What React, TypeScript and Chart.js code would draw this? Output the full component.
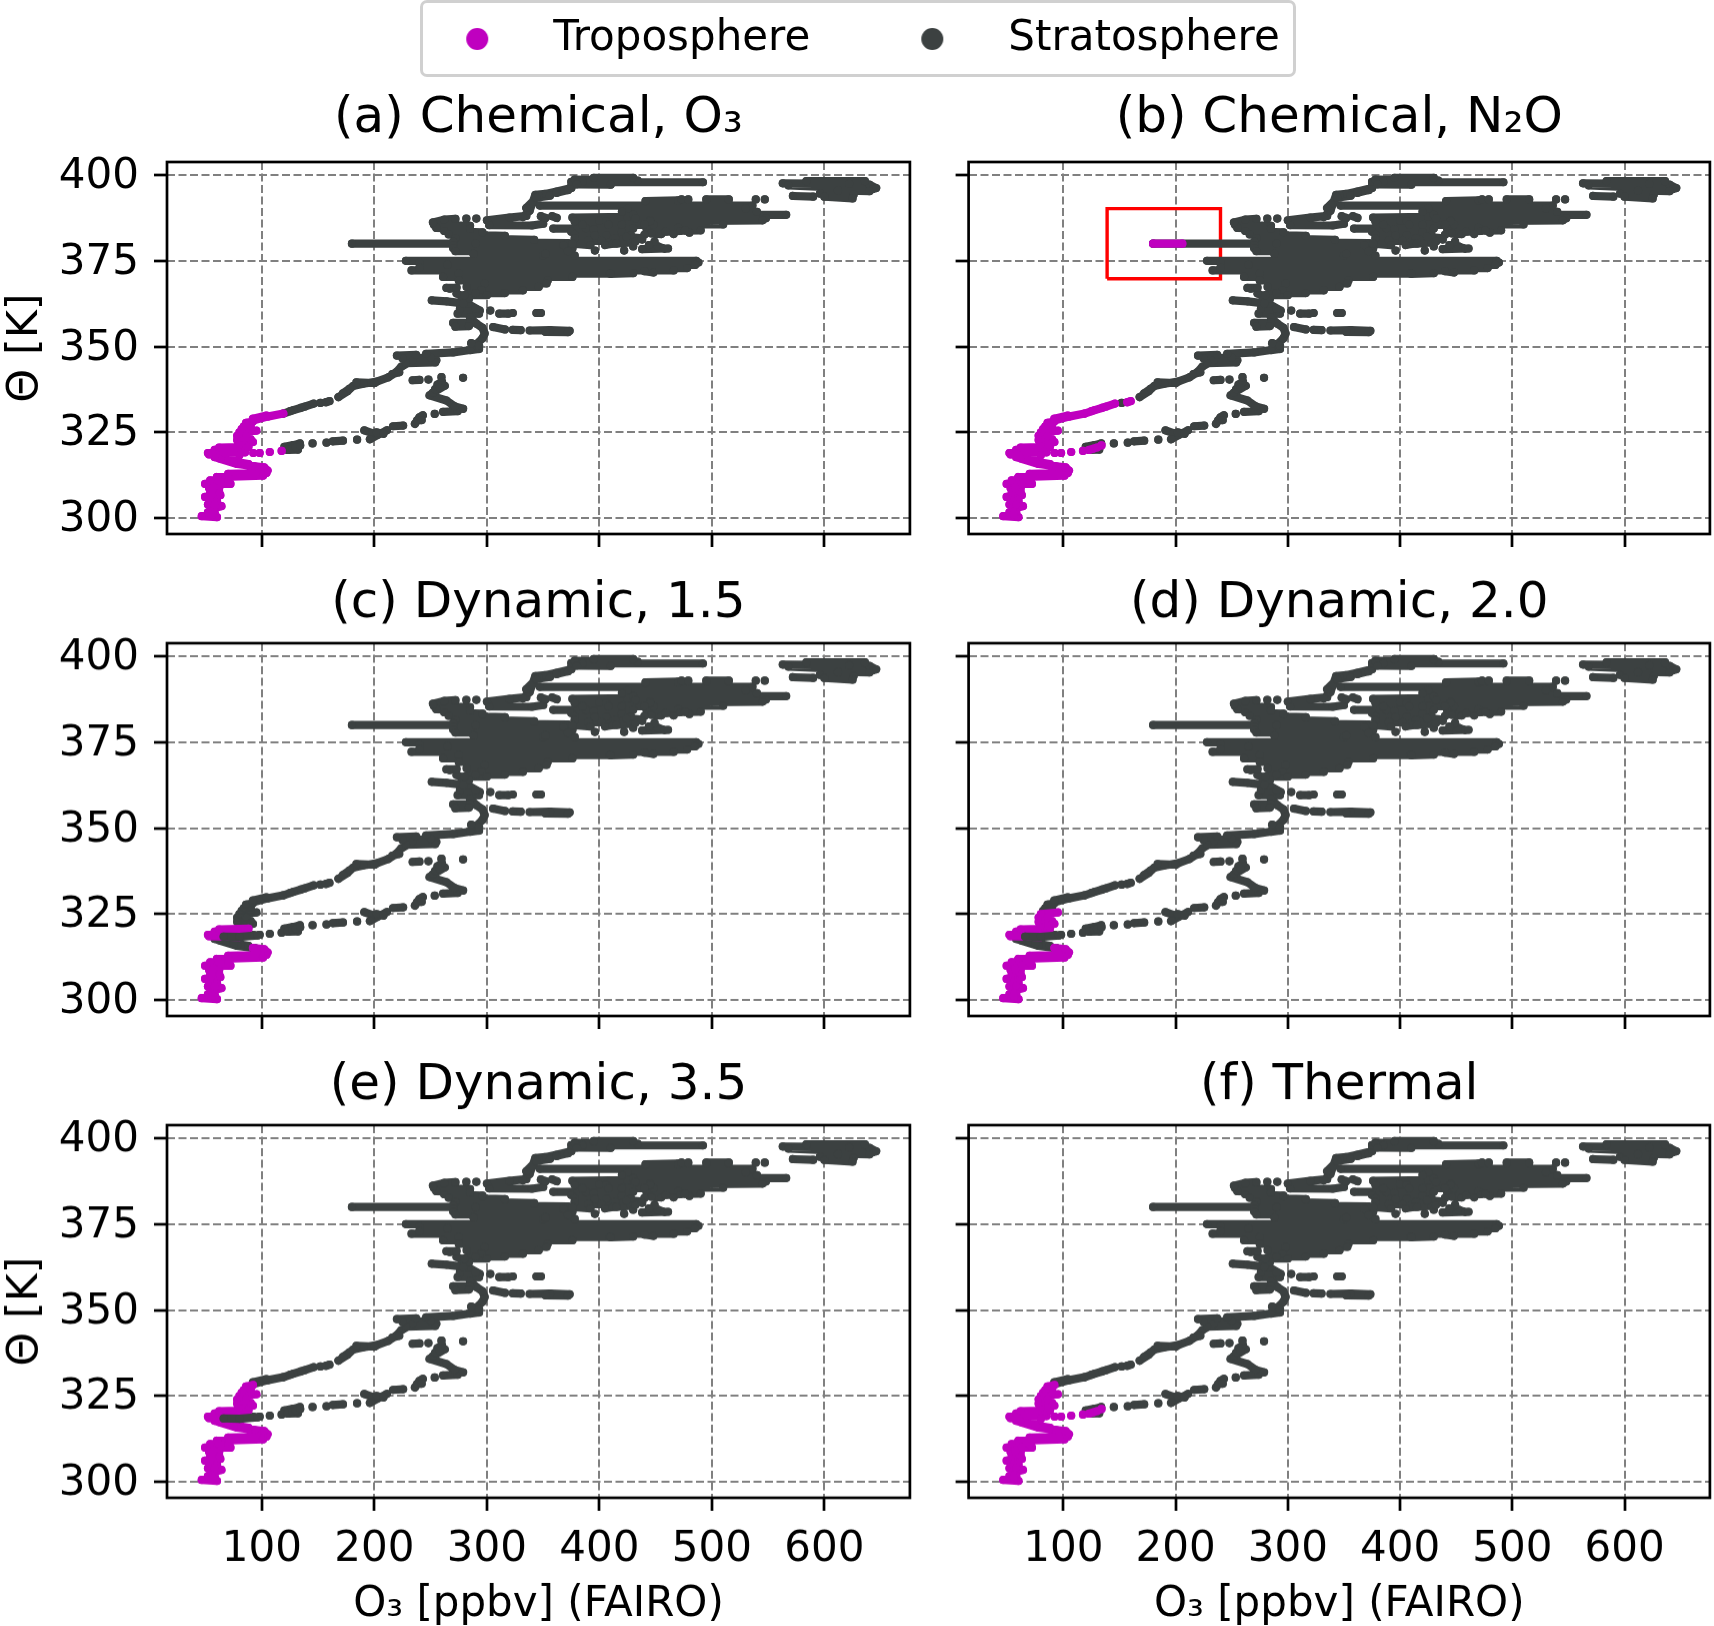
import React, { useEffect, useRef } from "react";
import { Chart, registerables } from "chart.js";

Chart.register(...registerables);

type P = [number, number];

const FONT = "'DejaVu Sans'";
const MAGENTA = "#bf00bf";
const DARK = "#3c4141";
const GRID = "#808080";

const xTickStep = 100;
const yTickStep = 25;
const xRange: P = [15.6, 676];
const yRange: P = [295.4, 403.8];

const titles = ["(a) Chemical, O₃", "(b) Chemical, N₂O", "(c) Dynamic, 1.5", "(d) Dynamic, 2.0", "(e) Dynamic, 3.5", "(f) Thermal"];
const xAxisLabel = "O₃ [ppbv] (FAIRO)";
const yAxisLabel = "Θ [K]";
const legendLabels = ["Troposphere", "Stratosphere"];
const redBox: P[] = [[139, 369.8], [240, 369.8], [240, 390.2], [139, 390.2], [139, 369.8]];

// ---- lower profile, split into the pieces that each criterion labels differently
const bottomProfile: P[][] = [
  [[46.5, 300.6], [60, 300.3]], [[52, 301.7], [58, 301.7]], [[55, 302.6], [64, 303.5]], [[52, 304], [61, 304]], [[54, 305.2], [60, 305.2]],
  [[49.5, 306.2], [63, 306.7]], [[54, 307.6], [62, 307.6]], [[53, 308.8], [62, 308.8]], [[49.5, 310], [72, 310]], [[54, 311], [70, 310.8]],
  [[56, 301], [58, 304], [57, 309], [60, 312]], [[60, 312], [101, 312.4]], [[70, 312.9], [104, 313.2]],
];
const kneeTip: P[][] = [[[105, 313.9], [102, 314.8], [92, 315.2]]];
const kneeSegment: P[][] = [[[94, 315.1], [78, 315.8], [62, 317.4]], [[88, 315.8], [70, 316.8]], [[75, 316.2], [58, 317.8]]];
const lowBlob: P[][] = [[[52, 319], [85, 319.2]], [[53, 318.6], [80, 318.4]], [[58, 319.9], [85, 320.2]], [[62, 320.6], [88, 320.8]]];
const midProfile: P[][] = [[[80, 321.5], [92, 322.2]], [[78, 322.8], [90, 323]], [[78, 324], [86, 324]], [[80, 325], [95, 325.5]]];
const shoulder: P[][] = [[[82, 326], [90, 326]], [[84, 326.8], [90, 327]], [[86, 327.8], [92, 328.2]]];
const upperTropo: P[][] = [[[92, 328.5], [105, 329.6], [119, 330.5]], [[92, 329], [104, 329.9]]];
const upperMid: P[][] = [[[119, 330.5], [128, 331.5], [138, 332.5], [146, 333.4]], [[125, 331.2], [135, 332.2]]];
const upperDots: P[][] = [[[152, 333.6]]];
const upperSpot: P[][] = [[[157, 333.8], [160, 334.1]]];
const lowDotsNear: P[][] = [[[92.3, 319]], [[98, 319]], [[107, 319.3]], [[117.5, 319.6]]];
const lowDotsFar: P[][] = [[[123, 319.9], [127, 320.3]], [[130, 320.6]], [[134, 321.2]]];
const darkSliver: P[][] = [[[66, 318.5], [80, 318.4], [96, 318.8]]];
const chemicalStart: P[][] = [[[180, 380], [206, 380]]];

// ---- stratospheric branch
const lowStrand: P[][] = [
  [[120, 320.8], [127.8, 321.3], [133.7, 321.8]], [[123, 319.9], [132, 320]], [[145, 321.8]], [[157.4, 322]], [[163, 322.4], [172, 322.6]], [[184.6, 322.9]],
  [[191, 325.6], [198, 324.8]], [[196, 323], [203, 324.3], [211, 325.6]], [[202, 325], [208, 324.6]], [[216.6, 326.8], [225.5, 327]],
  [[236, 327.5], [240, 329.4], [243, 330]], [[238, 328.5], [242, 328.6]], [[253.6, 330.4]], [[261, 331], [274, 331.2]],
  [[278.8, 331.9], [271.4, 332.6], [264, 334.3], [249, 335.8], [252, 336.6], [262.5, 338.6], [256, 338.9], [260, 339.8]], [[254, 337.6], [258, 338]],
  [[234, 340.2], [240, 340.3]], [[248, 340.4]], [[259.6, 341.1]], [[278.8, 340.9]],
];
const trunkLower: P[][] = [
  [[168, 335.3], [176, 337], [181, 338.5], [190, 339.2], [202, 339.8], [212, 341], [219.6, 342.6], [224, 344.2], [234, 346], [255, 346]],
  [[172, 336.4], [178, 337.8]], [[184, 339.6], [200, 339.4]], [[216, 342], [222, 342.5]], [[228, 345.2], [254, 345.4]], [[225, 346.6], [250, 346.8]],
  [[220, 347.4], [237, 347.6]], [[246, 347.9], [270, 348.3], [285, 349], [293, 349.3], [291, 350.8], [296, 352.4], [298, 353.8], [296, 355.5], [290.6, 356.7], [285, 358.5], [293.6, 360.5], [283, 362.5], [284, 364], [273, 365.5]],
  [[270, 356.9], [285, 356.9]], [[272, 355.8], [284, 356]], [[274, 359.6], [293, 359.6]], [[276, 361], [290, 361]], [[251, 363.5], [264, 363.2], [279, 362.6]], [[267, 366.9]], [[264, 367.1], [273, 367.2]], [[286, 351], [293, 350.2]],
  [[303, 360.5]], [[311, 359.6], [319, 359.6]], [[323, 359.8]], [[344, 359.8], [348, 359.8]],
  [[305.5, 355.7], [316, 355]], [[323, 354.9], [330, 354.8]], [[338, 354.7], [356, 354.8], [373.5, 354.6]], [[352, 354.3], [372, 354.2]],
];
const centralBands: P[][] = [
  [[228, 375], [486, 375]], [[240, 374.5], [488, 374.5]], [[265, 373.8], [485, 373.8]], [[240, 373], [478, 372.9]], [[233, 372.2], [466, 372.2]],
  [[275, 371.3], [409, 371.3]], [[261, 370.3], [376, 370.3]], [[275, 369.3], [354, 369.3]], [[298, 368.4], [353, 368.4]], [[282, 367.4], [346, 367.4]],
  [[295, 366.5], [332, 366.4]], [[290, 365.6], [316, 365.6]], [[280, 365], [300, 365]],
  [[350, 376.5], [378, 376.5]], [[288, 377], [352, 377]], [[410, 371.2], [430, 371.4]], [[440, 372], [448, 371.6]],
];
const band380: P[][] = [
  [[180, 380], [290, 380]], [[253, 385.5], [285, 385.2]], [[255, 384.6], [285, 384.3]], [[262, 383.7], [296, 383.3]], [[266, 382.7], [316, 382.3]], [[272, 381.6], [342, 381.1]],
  [[270, 380.5], [372, 380.2]], [[270, 379.6], [368, 379.6]], [[270, 378.7], [376, 378.6]], [[272, 377.8], [372, 377.8]],
];
const upperCloud: P[][] = [
  [[252, 386.2], [262, 387], [272, 387.2]], [[281.7, 387.3]], [[290.6, 387.3]], [[300, 386.8], [320, 387.6], [335, 388.1]], [[302, 385.4], [340, 385.3], [350, 385.8]],
  [[332, 387.8], [338, 389.6], [343, 394.2], [352, 394.5], [362, 395.2], [375, 396.2]], [[335, 390.4], [346, 394]], [[344, 393.4], [356, 394]], [[362, 394.8], [372, 395.6]], [[348, 388], [352, 387.5]], [[358, 388], [362, 387.5]],
  [[359, 384.4], [388, 384.5]], [[395, 384.2], [430, 384.4]], [[376, 387.6], [425, 387.8]], [[378, 386.5], [400, 386.7]], [[406, 386.5], [445, 386.7]], [[385, 385.5], [408, 385.5]], [[420, 385.5], [448, 385.5]], [[375, 383.5], [420, 383.4]], [[378, 382.6], [396, 382.4]], [[406, 382.5], [428, 382.4]], [[378, 381.5], [414, 381.5]], [[390, 380.9], [402, 380.8]],
  [[376, 380], [392, 379.6]], [[405, 379.6], [412, 380]], [[415, 380], [428, 380.4]], [[430, 379.2]], [[452, 379.2], [458, 378.5]], [[424, 382], [436, 381.6]], [[442, 384.2], [470, 384.6]], [[446, 383], [455, 382.8]], [[466, 382.8]], [[480, 383.2]],
  [[396, 378]], [[422, 378]], [[438, 378.4], [461, 378.6]], [[449, 380.6]], [[432, 380.6]], [[459, 383.5], [472, 383.7]], [[476, 383.8], [490, 383.9]], [[440, 382.6]], [[438, 381.2]], [[444, 379.6]],
  [[347, 391.1], [536, 391.1]], [[441, 392.4], [470, 392.6]], [[473, 392.9]], [[479, 392.9]], [[495, 392.9], [515, 392.9]], [[539, 392.9]], [[547, 392.9]],
  [[425, 390.2], [530, 390.2]], [[420, 389.3], [540, 389.3]], [[430, 388.4], [566, 388.4]], [[432, 387.4], [548, 387.4]], [[445, 386.5], [545, 386.8]], [[440, 385.6], [510, 385.6]],
];
const topRibbon: P[][] = [
  [[375, 396.8], [385, 398]], [[375, 398], [492, 397.9]], [[378, 398.7], [434, 398.4]], [[395, 399.2], [430, 399.2]], [[380, 397.3], [410, 397.2]],
];
const topRight: P[][] = [
  [[563, 397.6], [622, 397.4], [640, 397.2], [646, 396.2]], [[568, 397], [643, 395.9]], [[584, 398.2], [636, 398.2]],
  [[572, 393.9], [590, 393.7]], [[596, 394.6], [626, 394.3]], [[600, 393.7], [625, 393.2]], [[612, 395.5], [640, 395.3]],
];

const lowerSegments: P[][][] = [bottomProfile, kneeTip, kneeSegment, lowBlob, midProfile, shoulder, upperTropo, upperMid, upperDots, upperSpot, lowDotsNear, lowDotsFar];
const stratosphereAlways: P[][][] = [lowStrand, trunkLower, centralBands, band380, upperCloud, topRibbon, topRight];

const panelTroposphere: P[][][][] = [
  [bottomProfile, kneeTip, kneeSegment, lowBlob, midProfile, shoulder, upperTropo, lowDotsNear],
  [bottomProfile, kneeTip, kneeSegment, lowBlob, midProfile, shoulder, upperTropo, upperMid, upperSpot, lowDotsNear, lowDotsFar, chemicalStart],
  [bottomProfile, kneeTip, lowBlob],
  [bottomProfile, kneeTip, lowBlob, midProfile],
  [bottomProfile, kneeTip, kneeSegment, lowBlob, midProfile, shoulder],
  [bottomProfile, kneeTip, kneeSegment, lowBlob, midProfile, shoulder, lowDotsNear, lowDotsFar],
];
const panelSliver = [false, false, true, true, true, false];

const withGaps = (lines: P[][]) => {
  const out: { x: number; y: number }[] = [];
  lines.forEach((line) => {
    line.forEach(([x, y]) => out.push({ x, y }));
    out.push({ x: NaN, y: NaN });
  });
  return out;
};

const strokeSet = (label: string, lines: P[][], color: string, order: number) => ({
  label,
  data: withGaps(lines),
  showLine: true,
  spanGaps: false,
  borderColor: color,
  backgroundColor: color,
  borderWidth: 8.2,
  borderCapStyle: "round" as const,
  borderJoinStyle: "round" as const,
  pointRadius: 4.1,
  pointBorderWidth: 0,
  order,
});

const spine = {
  id: "spine",
  afterDatasetsDraw(chart: any) {
    const { ctx, chartArea: a } = chart;
    ctx.save();
    ctx.strokeStyle = "#000";
    ctx.lineWidth = 2.7;
    ctx.strokeRect(a.left, a.top, a.right - a.left, a.bottom - a.top);
    ctx.restore();
  },
};

const pinScale = (s: any, key: "width" | "height", size: number) => {
  s[key] = size;
  s.paddingLeft = 0;
  s.paddingRight = 0;
  s.paddingTop = 0;
  s.paddingBottom = 0;
};

const TITLE_LINE = 60;
const rowTitleGap = [13, 9, 9];

const buildPanel = (i: number, canvas: HTMLCanvasElement, leftW: number, bottomH: number) => {
  const left = i % 2 === 0;
  const last = i >= 4;
  const tropo = panelTroposphere[i];
  const datasets: any[] = [];
  if (panelSliver[i]) datasets.push(strokeSet("sliver", darkSliver, DARK, 0));
  datasets.push(strokeSet("Troposphere", tropo.flat(), MAGENTA, 1));
  const strat = [...stratosphereAlways, ...lowerSegments.filter((s) => !tropo.includes(s))].flat();
  datasets.push(strokeSet("Stratosphere", strat, DARK, 2));
  if (i === 1) {
    datasets.push({ label: "box", data: redBox.map(([x, y]) => ({ x, y })), showLine: true, borderColor: "#ff0000", borderWidth: 3.4, pointRadius: 0, order: 3 });
  }
  return new Chart(canvas, {
    type: "scatter",
    data: { datasets },
    plugins: [spine],
    options: {
      animation: false,
      responsive: false,
      layout: { padding: { left: 0, right: left ? 3 : 2, top: 0, bottom: 0 } },
      plugins: {
        legend: { display: false },
        tooltip: { enabled: false },
        title: { display: true, text: titles[i], fullSize: false, color: "#000", font: { family: FONT, size: 50, weight: "normal" }, padding: { top: 0, bottom: rowTitleGap[Math.floor(i / 2)] } },
      },
      scales: {
        x: {
          type: "linear",
          min: xRange[0],
          max: xRange[1],
          afterFit: (s: any) => pinScale(s, "height", bottomH),
          border: { display: false, dash: [8, 3.5] },
          grid: { color: GRID, lineWidth: 2, tickColor: "#000", tickWidth: 2.7, tickLength: 13, drawTicks: true },
          ticks: { stepSize: xTickStep, includeBounds: false, display: last, color: "#000", maxRotation: 0, padding: 14, font: { family: FONT, size: 42 } },
          title: { display: last, text: xAxisLabel, color: "#000", font: { family: FONT, size: 42 }, padding: { top: 6, bottom: 0 } },
        },
        y: {
          type: "linear",
          min: yRange[0],
          max: yRange[1],
          afterFit: (s: any) => pinScale(s, "width", leftW),
          border: { display: false, dash: [8, 3.5] },
          grid: { color: GRID, lineWidth: 2, tickColor: "#000", tickWidth: 2.7, tickLength: 13, drawTicks: true },
          ticks: { stepSize: yTickStep, includeBounds: false, display: left, color: "#000", padding: 15, labelOffset: 2, font: { family: FONT, size: 42 } },
          title: { display: left && i !== 2, text: yAxisLabel, color: "#000", font: { family: FONT, size: 43 }, padding: { top: 0, bottom: 0 } },
        },
      },
    } as any,
  });
};

const rowTop = [161.5, 643, 1125];
const rowBottom = [533.5, 1015.5, 1497.5];
const rowBelow = [14, 14, 132];

function Panel({ i }: { i: number }) {
  const ref = useRef<HTMLCanvasElement>(null);
  const row = Math.floor(i / 2);
  const left = i % 2 === 0;
  const x = left ? 0 : 914;
  const w = left ? 914 : 800;
  const y = rowTop[row] - (TITLE_LINE + rowTitleGap[row]);
  const h = rowBottom[row] + rowBelow[row] - y;
  const leftW = left ? 167 : 54.6;
  useEffect(() => {
    const c = buildPanel(i, ref.current!, leftW, rowBelow[row]);
    return () => c.destroy();
  }, []);
  return <canvas ref={ref} width={w} height={h} style={{ position: "absolute", left: x, top: y, width: w, height: h }} />;
}

const circleImage = (color: string) => {
  const c = document.createElement("canvas");
  c.width = 24;
  c.height = 24;
  const g = c.getContext("2d")!;
  g.fillStyle = color;
  g.beginPath();
  g.arc(12, 12, 11, 0, Math.PI * 2);
  g.fill();
  return c;
};

function LegendBox() {
  const ref = useRef<HTMLCanvasElement>(null);
  useEffect(() => {
    const colors = [MAGENTA, DARK];
    const c = new Chart(ref.current!, {
      type: "scatter",
      data: {
        datasets: legendLabels.map((label, k) => ({ label, data: [], backgroundColor: colors[k], borderColor: colors[k] })),
      },
      options: {
        animation: false,
        responsive: false,
        scales: { x: { display: false }, y: { display: false } },
        plugins: {
          tooltip: { enabled: false },
          legend: {
            display: true,
            position: "top",
            labels: {
              usePointStyle: true,
              pointStyleWidth: 110,
              boxHeight: 24,
              padding: 67,
              color: "#000",
              font: { family: FONT, size: 42 },
              generateLabels: () =>
                legendLabels.map((text, k) => ({ text, fillStyle: colors[k], strokeStyle: colors[k], lineWidth: 0, pointStyle: circleImage(colors[k]), datasetIndex: k, fontColor: "#000" })),
            },
          },
        },
      } as any,
    });
    return () => c.destroy();
  }, []);
  return (
    <div style={{ position: "absolute", left: 420, top: 0, width: 870, height: 71, border: "3px solid #d0d0d0", borderRadius: 7, background: "#fff", overflow: "hidden" }}>
      <canvas ref={ref} width={1400} height={400} style={{ position: "absolute", left: -272, top: -52, width: 1400, height: 400 }} />
    </div>
  );
}

export default function App() {
  useEffect(() => {
    document.body.style.margin = "0";
  }, []);
  return (
    <div style={{ position: "relative", width: 1714, height: 1626, background: "#fff", overflow: "hidden" }}>
      {titles.map((_, i) => (
        <Panel key={i} i={i} />
      ))}
      <LegendBox />
    </div>
  );
}
